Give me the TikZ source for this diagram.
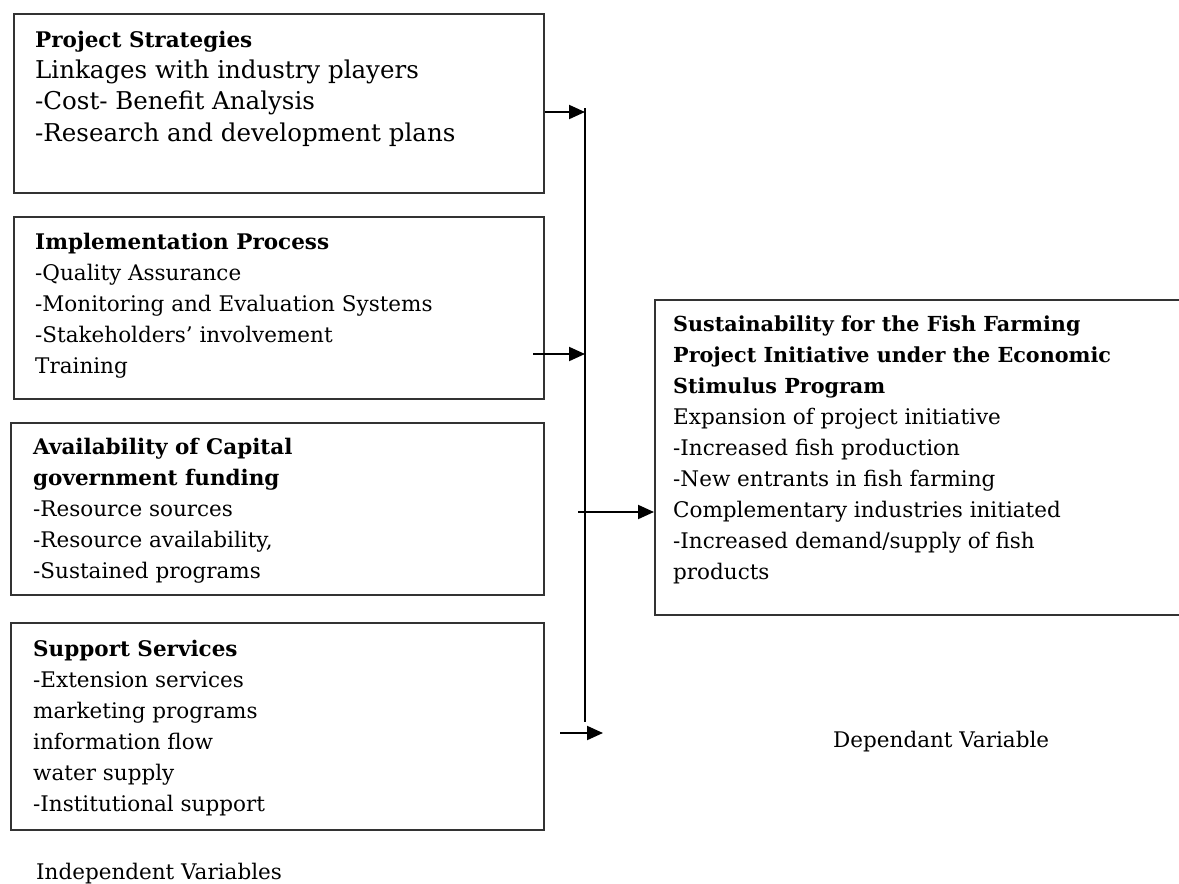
\documentclass[tikz,border=0pt]{standalone}
\usepackage{fontspec}
\setmainfont{DejaVu Serif}
\usetikzlibrary{arrows.meta}
\begin{document}
\begin{tikzpicture}[x=1pt,y=-1pt,
  box/.style={draw=black!80, line width=1.8pt, inner sep=0pt, anchor=north west},
  txt/.style={anchor=north west, inner sep=0pt, align=left, font=\fontsize{21.5}{31}\selectfont},
  rtxt/.style={anchor=north west, inner sep=0pt, align=left, font=\fontsize{21.5}{31}\selectfont},
  big/.style={anchor=north west, inner sep=0pt, align=left, font=\fontsize{24.5}{31.5}\selectfont},
  conn/.style={line width=2pt, -{Triangle[length=16pt,width=14pt]}},
  line/.style={line width=2pt},
  ]
\useasboundingbox[fill=white] (0,0) rectangle (1179,884);
% boxes
\node[box, minimum width=530, minimum height=179] (b1) at (13,13) {};
\node[box, minimum width=530, minimum height=182] (b2) at (13,216) {};
\node[box, minimum width=533, minimum height=172] (b3) at (10,422) {};
\node[box, minimum width=533, minimum height=207] (b4) at (10,622) {};
\node[box, minimum width=540, minimum height=315] (b5) at (654,299) {};
% texts
\node[txt] (t1a) at (35,47-21.7) {\strut\textbf{Project Strategies}};
\node[big] (t1b) at (35,78-22.05) {\strut Linkages with industry players\\-Cost- Benefit Analysis\\-Research and development plans};
\node[txt] (t2) at (35,249-21.7) {\strut\textbf{Implementation Process}\\-Quality Assurance\\-Monitoring and Evaluation Systems\\-Stakeholders’ involvement\\Training};
\node[txt] (t3) at (33,454-21.7) {\strut\textbf{Availability of Capital}\\\textbf{government funding}\\-Resource sources\\-Resource availability,\\-Sustained programs};
\node[txt] (t4) at (33,656-21.7) {\strut\textbf{Support Services}\\-Extension services\\marketing programs\\information flow\\water supply\\-Institutional support};
\node[rtxt] (t5) at (673,331-21.7) {\strut{\fontsize{20.7}{31}\selectfont\bfseries Sustainability for the Fish Farming}\\{\fontsize{20.7}{31}\selectfont\bfseries Project Initiative under the Economic}\\{\fontsize{20.7}{31}\selectfont\bfseries Stimulus Program}\\Expansion of project initiative\\-Increased fish production\\-New entrants in fish farming\\Complementary industries initiated\\-Increased demand/supply of fish\\products};
\node[txt, anchor=base west] (iv) at (36,879) {Independent Variables};
\node[txt, anchor=base west] (dv) at (833,747) {Dependant Variable};
% connectors
\coordinate (top) at (585,108);
\coordinate (bot) at (585,722);
\draw[line] (top) -- (bot);
\coordinate (a1s) at (b1.east |- 0,112);
\coordinate (a1e) at (585,112);
\draw[conn] (a1s) -- (a1e);
\coordinate (a2s) at (533,354);
\coordinate (a2e) at (585,354);
\draw[conn] (a2s) -- (a2e);
\coordinate (a3s) at (578,512);
\draw[conn] (a3s) -- (b5.west |- a3s);
\coordinate (a4s) at (560,733);
\coordinate (a4e) at (603,733);
\draw[conn] (a4s) -- (a4e);
\end{tikzpicture}
\end{document}
